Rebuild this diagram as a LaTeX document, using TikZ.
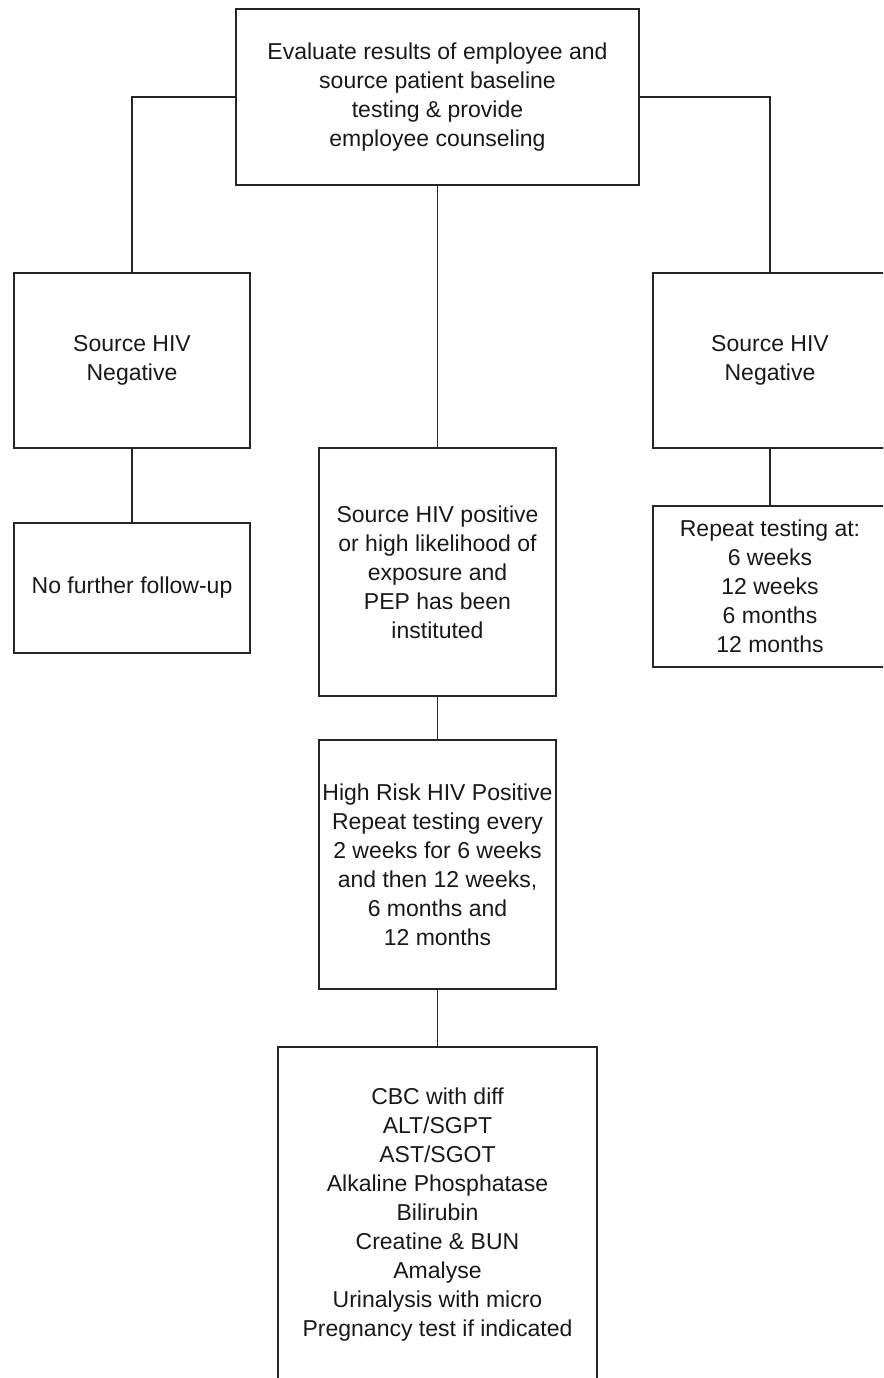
\documentclass[tikz,border=0pt]{standalone}
\usepackage{fontspec}
\setmainfont{Liberation Sans}
\begin{document}
\begin{tikzpicture}[x=1pt,y=-1pt,
  box/.style={draw=black!85,line width=1.9pt,fill=white,inner sep=0pt,align=center,
    font=\fontsize{23}{29}\selectfont,text=black!90},
  link/.style={draw=black!85,line width=1.9pt}]
\useasboundingbox (0,0) rectangle (883,1378);
\clip (0,0) rectangle (883,1378);
% nodes: at centre, size
\node[box,minimum width=403pt,minimum height=176pt] (top) at (437.5,97) {Evaluate results of employee and\\source patient baseline\\testing \& provide\\employee counseling};
\node[box,minimum width=236pt,minimum height=175pt] (L1) at (132,360.5) {Source HIV\\Negative};
\node[box,minimum width=234pt,minimum height=175pt] (R1) at (770,360.5) {Source HIV\\Negative};
\node[box,minimum width=237pt,minimum height=248pt] (C1) at (437.5,572) {Source HIV positive\\or high likelihood of\\exposure and\\PEP has been\\instituted};
\node[box,minimum width=236pt,minimum height=130pt] (L2) at (132,588) {No further follow-up};
\node[box,minimum width=234pt,minimum height=161pt] (R2) at (770,586.5) {Repeat testing at:\\6 weeks\\12 weeks\\6 months\\12 months};
\node[box,minimum width=237pt,minimum height=249pt] (C2) at (437.5,864.5) {High Risk HIV Positive\\Repeat testing every\\2 weeks for 6 weeks\\and then 12 weeks,\\6 months and\\12 months};
\node[box,minimum width=319pt,minimum height=335pt] (C3) at (437.5,1214.5) {CBC with diff\\ALT/SGPT\\AST/SGOT\\Alkaline Phosphatase\\Bilirubin\\Creatine \& BUN\\Amalyse\\Urinalysis with micro\\Pregnancy test if indicated};
% connectors
\draw[link] (top.west) -| (L1.north);
\draw[link] (top.east) -| (R1.north);
\draw[link] (top.south) -- (C1.north);
\draw[link] (L1.south) -- (L2.north);
\draw[link] (R1.south) -- (R2.north);
\draw[link] (C1.south) -- (C2.north);
\draw[link] (C2.south) -- (C3.north);
\end{tikzpicture}
\end{document}
